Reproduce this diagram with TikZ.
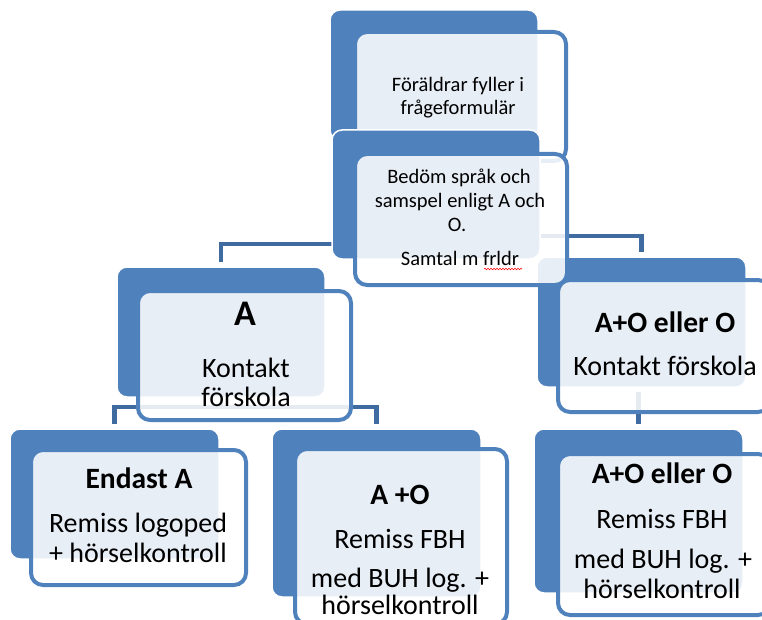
\documentclass[tikz,border=0pt]{standalone}
\usepackage{fontspec}
\setmainfont{Carlito}
\usetikzlibrary{backgrounds,decorations.pathmorphing}
\definecolor{accent}{RGB}{79,129,189}
\definecolor{linkc}{RGB}{63,107,160}
\tikzset{
  backbox/.style={rectangle, rounded corners=10pt, fill=accent, draw=white, line width=1.5pt,
    anchor=north west, inner sep=0pt, outer sep=0pt},
  frontbox/.style={rectangle, rounded corners=12pt, fill=white, fill opacity=0.87, draw=accent,
    draw opacity=1, line width=4pt, anchor=north west, inner sep=0pt, outer sep=0pt},
  conn/.style={draw=linkc, line width=4.5pt, shorten <=5pt, shorten >=5pt},
  smalltxt/.style={anchor=base, inner sep=0pt, font=\fontsize{20.5}{24}\selectfont},
  bigtxt/.style={anchor=base, inner sep=0pt, font=\fontsize{28}{32}\selectfont},
  boldtxt/.style={anchor=base, inner sep=0pt, font=\fontsize{29.5}{33}\selectfont\bfseries},
  hugetxt/.style={anchor=base, inner sep=0pt, font=\fontsize{36}{40}\selectfont\bfseries},
  spell/.style={draw=red, line width=0.6pt, decorate, decoration={snake, amplitude=0.7pt, segment length=3pt}}
}
\begin{document}
\begin{tikzpicture}[x=1pt,y=-1pt]
\useasboundingbox (0,0) rectangle (762,620);
\clip (0,0) rectangle (762,620);

% bottom row
\node[backbox, minimum width=209pt, minimum height=130pt] (bL) at (10,429) {};
\node[frontbox, minimum width=215pt, minimum height=135pt] (fL) at (31,450) {};
\node[backbox, minimum width=209pt, minimum height=168pt] (bM) at (272,429) {};
\node[frontbox, minimum width=212pt, minimum height=175pt] (fM) at (295,449) {};
\node[backbox, minimum width=209pt, minimum height=164pt] (bR) at (534,429) {};
\node[frontbox, minimum width=212pt, minimum height=161pt] (fR) at (558,454) {};

% middle row
\node[backbox, minimum width=208pt, minimum height=130pt] (bA) at (117,267) {};
\node[frontbox, minimum width=213pt, minimum height=129pt] (fA) at (138,291) {};
\node[backbox, minimum width=209pt, minimum height=130pt] (bAO) at (537,257) {};
\node[frontbox, minimum width=212pt, minimum height=132pt] (fAO) at (558,280) {};

% top items
\node[backbox, minimum width=208pt, minimum height=130pt] (b1) at (330,10) {};
\node[frontbox, minimum width=211pt, minimum height=129pt] (f1) at (355,32) {};
\node[backbox, minimum width=208pt, minimum height=129pt] (b2) at (332,130) {};
\node[frontbox, minimum width=212pt, minimum height=131pt] (f2) at (355,154) {};

% connectors
\begin{pgfonlayer}{background}
\draw[conn, shorten <=0pt] (b2.center |- 0,244) -| (bA.north);
\draw[conn, shorten <=0pt] (b2.center |- 0,236) -| (bAO.north);
\draw[conn, shorten >=0pt] (bA.south) -- (bA.south |- 0,407);
\draw[conn] (bL.north) -- (bL.north |- 0,407) -- (bM.north |- 0,407) -- (bM.north);
\draw[conn] (bR.north |- bAO.south) -- (bR.north);
\end{pgfonlayer}

% texts
\node[smalltxt] (t1a) at (458,92) {Föräldrar fyller i};
\node[smalltxt] (t1b) at (458,115) {frågeformulär};

\node[smalltxt] (t2a) at (459,184) {Bedöm språk och};
\node[smalltxt] (t2b) at (460,208) {samspel enligt A och};
\node[smalltxt] (t2c) at (457,232) {O.};
\node[smalltxt] (t2d) at (460,265) {Samtal m frldr};
\draw[spell] (484,269) -- (522,269);

\node[hugetxt] (tAa) at (245,325) {A};
\node[bigtxt] (tAb) at (246,377) {Kontakt};
\node[bigtxt] (tAc) at (246,406) {förskola};

\node[boldtxt] (tOa) at (665,332) {A+O eller O};
\node[bigtxt] (tOb) at (665,375) {Kontakt förskola};

\node[boldtxt] (tLa) at (139,488) {Endast A};
\node[bigtxt] (tLb) at (138,532) {Remiss logoped};
\node[bigtxt] (tLc) at (138,562) {+ hörselkontroll};

\node[boldtxt] (tMa) at (400,504) {A +O};
\node[bigtxt] (tMb) at (400,548) {Remiss FBH};
\node[bigtxt] (tMc) at (400,587) {med BUH log. +};
\node[bigtxt] (tMd) at (400,614) {hörselkontroll};

\node[boldtxt] (tRa) at (662,483) {A+O eller O};
\node[bigtxt] (tRb) at (662,528) {Remiss FBH};
\node[bigtxt] (tRc) at (663,568) {med BUH log. +};
\node[bigtxt] (tRd) at (662,598) {hörselkontroll};
\end{tikzpicture}
\end{document}
